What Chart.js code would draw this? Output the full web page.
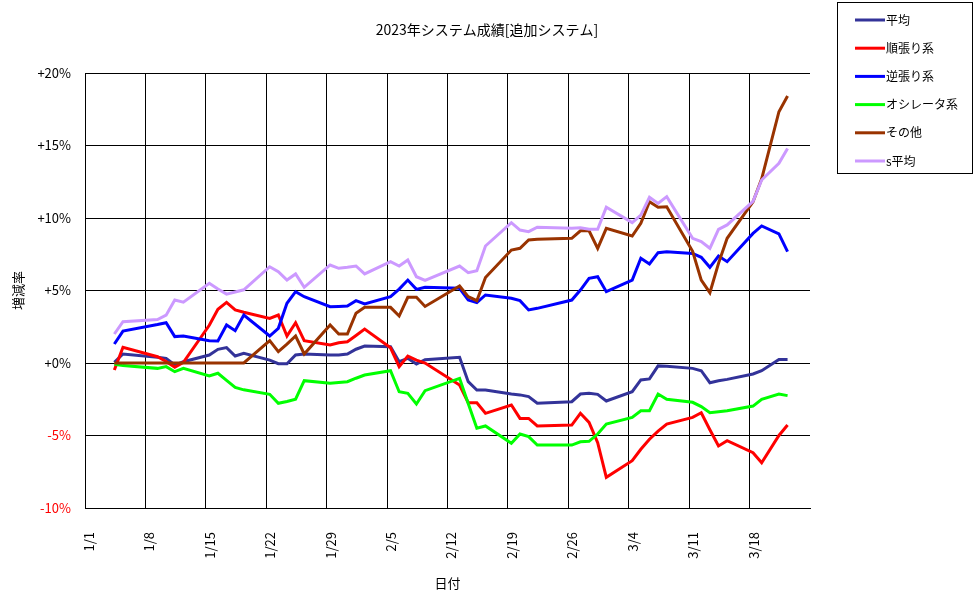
<!DOCTYPE html>
<html>
<head>
<meta charset="utf-8">
<script src="https://cdn.jsdelivr.net/npm/chart.js@4"></script>
<style>
  body { margin: 0; background: #fff; }
  canvas { display: block; }
</style>
</head>
<body>
<canvas id="myChart" width="976" height="599"></canvas>
<script>
var ctx = document.getElementById("myChart").getContext("2d");

var chartTitle = "2023年システム成績[追加システム]";
var seriesNames = ["平均", "順張り系", "逆張り系", "オシレータ系", "その他", "s平均"];

// trading days, counted in days from 1/1
var tradeDays = [3, 4, 8, 9, 10, 11, 14, 15, 16, 17, 18, 21, 22, 23, 24, 25, 28, 29, 30, 31, 32,
  35, 36, 37, 38, 39, 43, 44, 45, 46, 49, 50, 51, 52, 56, 57, 58, 59, 60,
  63, 64, 65, 66, 67, 70, 71, 72, 73, 74, 77, 78, 80, 81];

var xTickDays = [0, 7, 14, 21, 28, 35, 42, 49, 56, 63, 70, 77];
var xTickLabels = ["1/1", "1/8", "1/15", "1/22", "1/29", "2/5", "2/12", "2/19", "2/26", "3/4", "3/11", "3/18"];
var yTickLabels = ["-10%", "-5%", "+0%", "+5%", "+10%", "+15%", "+20%"];

// values in %
var avgValues = [0.05, 0.62, 0.39, 0.32, -0.14, 0.09, 0.55, 0.94, 1.06, 0.48, 0.67, 0.2, -0.05, -0.05, 0.55, 0.62, 0.55, 0.55, 0.62, 0.95, 1.17,
  1.12, 0.09, 0.32, -0.07, 0.23, 0.39, -1.29, -1.86, -1.86, -2.14, -2.2, -2.32, -2.78, -2.67, -2.14, -2.09, -2.16, -2.62,
  -1.98, -1.17, -1.1, -0.2, -0.22, -0.37, -0.53, -1.36, -1.22, -1.13, -0.76, -0.53, 0.25, 0.25];
var trendValues = [-0.48, 1.08, 0.43, 0.1, -0.3, 0.05, 2.6, 3.7, 4.18, 3.66, 3.5, 3.08, 3.31, 1.86, 2.78, 1.54, 1.24, 1.4, 1.47, 1.9, 2.34,
  1.05, -0.25, 0.48, 0.2, 0.0, -1.52, -2.74, -2.74, -3.47, -2.9, -3.82, -3.82, -4.34, -4.28, -3.47, -4.1, -5.5, -7.88,
  -6.74, -5.95, -5.26, -4.7, -4.21, -3.75, -3.43, -4.6, -5.72, -5.36, -6.19, -6.88, -5.0, -4.28];
var contraValues = [1.31, 2.2, 2.65, 2.78, 1.82, 1.86, 1.54, 1.52, 2.62, 2.23, 3.31, 1.86, 2.39, 4.12, 4.92, 4.57, 3.88, 3.9, 3.93, 4.3, 4.07,
  4.57, 5.1, 5.72, 5.08, 5.22, 5.15, 4.34, 4.16, 4.69, 4.46, 4.3, 3.66, 3.77, 4.34, 5.03, 5.84, 5.95, 4.92,
  5.72, 7.22, 6.83, 7.61, 7.68, 7.56, 7.29, 6.6, 7.38, 6.99, 8.94, 9.45, 8.9, 7.68];
var oscValues = [-0.09, -0.18, -0.37, -0.25, -0.6, -0.37, -0.9, -0.71, -1.2, -1.68, -1.85, -2.16, -2.78, -2.65, -2.5, -1.22, -1.4, -1.35, -1.29, -1.05, -0.83,
  -0.53, -1.98, -2.09, -2.83, -1.91, -1.06, -2.8, -4.5, -4.34, -5.54, -4.9, -5.08, -5.66, -5.66, -5.43, -5.4, -4.9, -4.21,
  -3.75, -3.29, -3.29, -2.14, -2.5, -2.71, -3.01, -3.43, -3.36, -3.29, -2.97, -2.5, -2.14, -2.25];
var otherValues = [0, 0, 0, 0, 0, 0, 0, 0, 0, 0, 0, 1.54, 0.78, 1.3, 1.86, 0.62, 2.62, 2.0, 2.0, 3.43, 3.84,
  3.84, 3.24, 4.53, 4.53, 3.9, 5.31, 4.57, 4.3, 5.9, 7.79, 7.91, 8.48, 8.53, 8.6, 9.12, 9.12, 7.91, 9.29,
  8.76, 9.63, 11.12, 10.74, 10.78, 7.7, 5.72, 4.85, 6.87, 8.6, 11.12, 12.7, 17.33, 18.41];
var sAvgValues = [2.0, 2.85, 3.0, 3.3, 4.35, 4.2, 5.5, 5.1, 4.75, 4.9, 5.05, 6.64, 6.3, 5.72, 6.14, 5.22, 6.76, 6.53, 6.6, 6.69, 6.14,
  6.99, 6.69, 7.1, 5.95, 5.7, 6.69, 6.23, 6.37, 8.07, 9.68, 9.17, 9.06, 9.36, 9.29, 9.33, 9.22, 9.22, 10.74,
  9.68, 10.2, 11.43, 11.01, 11.47, 8.6, 8.37, 7.91, 9.22, 9.52, 11.15, 12.62, 13.77, 14.8];

var allValues = [avgValues, trendValues, contraValues, oscValues, otherValues, sAvgValues];
var lineColors = ["#333399", "#ff0000", "#0000ff", "#00ff00", "#993300", "#cc99ff"];

// points sit a bit inside the day slot, like the original date axis
var dayShift = 0.4;

function toPoints(values) {
  return values.map(function (v, i) {
    return { x: tradeDays[i] + dayShift, y: v };
  });
}

// legend box and title drawn on the canvas
var boxPlugin = {
  id: "boxPlugin",
  afterDraw: function (chart) {
    var c = chart.ctx;
    c.save();
    c.font = '14px "Noto Sans CJK JP"';
    c.fillStyle = "#000";
    c.textBaseline = "middle";
    c.textAlign = "center";
    c.fillText(chartTitle, 487, 30);

    c.strokeStyle = "#000";
    c.lineWidth = 1;
    c.strokeRect(837.5, 2.5, 135, 171);
    c.textAlign = "left";
    c.font = '12px "Noto Sans CJK JP"';
    chart.data.datasets.forEach(function (ds, i) {
      var y = 20 + i * 28.2;
      c.strokeStyle = ds.borderColor;
      c.lineWidth = 3;
      c.beginPath();
      c.moveTo(855, y);
      c.lineTo(885, y);
      c.stroke();
      c.fillText(ds.label, 886, y);
    });
    c.restore();
  }
};

Chart.defaults.font.family = '"Noto Sans CJK JP", sans-serif';
Chart.defaults.font.size = 13;
Chart.defaults.color = "#000";

var chart = new Chart(ctx, {
  type: "line",
  data: {
    datasets: seriesNames.map(function (name, i) {
      return {
        label: name,
        data: toPoints(allValues[i]),
        borderColor: lineColors[i],
        backgroundColor: lineColors[i],
        borderWidth: 3,
        pointRadius: 0,
        tension: 0,
        order: seriesNames.length - i
      };
    })
  },
  options: {
    responsive: false,
    animation: false,
    devicePixelRatio: 1,
    layout: { padding: { top: 73, right: 166, bottom: 0, left: 0 } },
    plugins: {
      legend: { display: false },
      title: { display: false },
      tooltip: { enabled: false }
    },
    scales: {
      x: {
        type: "linear",
        min: 0,
        max: 84,
        afterBuildTicks: function (axis) {
          axis.ticks = xTickDays.map(function (d) { return { value: d }; });
        },
        afterFit: function (axis) { axis.height = 91; },
        grid: { color: "#000", lineWidth: 1, drawTicks: false },
        border: { color: "#000", width: 1 },
        ticks: {
          autoSkip: false,
          maxRotation: 90,
          minRotation: 90,
          padding: 24,
          labelOffset: 4,
          callback: function (v, i) { return xTickLabels[i]; }
        },
        title: { display: true, text: "日付", padding: { top: 0, bottom: 8 } }
      },
      y: {
        min: -10,
        max: 20,
        afterBuildTicks: function (axis) {
          axis.ticks = [-10, -5, 0, 5, 10, 15, 20].map(function (v) { return { value: v }; });
        },
        afterFit: function (axis) { axis.width = 85; },
        grid: { color: "#000", lineWidth: 1, drawTicks: false },
        border: { color: "#000", width: 1 },
        ticks: {
          padding: 14,
          color: function (c) { return c.tick.value < 0 ? "#ff0000" : "#000"; },
          callback: function (v, i) { return yTickLabels[i]; }
        },
        title: { display: true, text: "増減率", padding: { top: 10, bottom: 0 } }
      }
    }
  },
  plugins: [boxPlugin]
});
</script>
</body>
</html>
